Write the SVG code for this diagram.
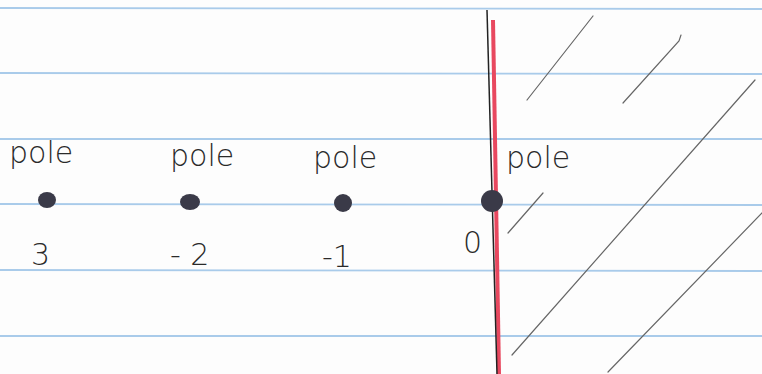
<svg xmlns="http://www.w3.org/2000/svg" width="762" height="374" viewBox="0 0 762 374">
<style>
.rule{stroke:#a9cbea;stroke-width:1.8;fill:none}
.hatch{stroke:#666;stroke-width:1.2;fill:none;stroke-linecap:round}
.lbl{font-family:"DejaVu Sans","Liberation Sans",sans-serif;font-weight:200;font-size:30px;fill:#2a2a2a}
.dot{fill:#3a3a48}
</style>
<rect width="762" height="374" fill="#fdfdfd"/>
<g id="paper">
<line class="rule" x1="0" y1="8" x2="762" y2="9"/>
<line class="rule" x1="0" y1="73" x2="762" y2="74"/>
<line class="rule" x1="0" y1="139" x2="762" y2="139"/>
<line class="rule" x1="0" y1="204" x2="762" y2="205"/>
<line class="rule" x1="0" y1="270" x2="762" y2="271"/>
<line class="rule" x1="0" y1="336" x2="762" y2="336"/>
</g>
<g id="axis">
<line x1="493" y1="20" x2="499" y2="374" stroke="#e8485f" stroke-width="4"/>
<line x1="487" y1="10" x2="497" y2="374" stroke="#222" stroke-width="1.5"/>
</g>
<g id="hatching">
<line class="hatch" x1="593" y1="16" x2="527" y2="100"/>
<path class="hatch" d="M681 35 L679 41 L623 103"/>
<line class="hatch" x1="755" y1="80" x2="512" y2="355"/>
<line class="hatch" x1="543" y1="193" x2="508" y2="233"/>
<line class="hatch" x1="762" y1="213" x2="608" y2="372"/>
</g>
<g id="pole3">
<ellipse class="dot" cx="47" cy="200" rx="9" ry="8"/>
<text class="lbl" x="9" y="163">pole</text>
<text class="lbl" x="31" y="265">3</text>
</g>
<g id="pole-2">
<ellipse class="dot" cx="190" cy="202" rx="10" ry="8"/>
<text class="lbl" x="170" y="166">pole</text>
<text class="lbl" x="170" y="265">- 2</text>
</g>
<g id="pole-1">
<ellipse class="dot" cx="343" cy="203" rx="9" ry="9" fill="#3c3c5a"/>
<text class="lbl" x="313" y="168">pole</text>
<text class="lbl" x="322" y="267">-1</text>
</g>
<g id="pole0">
<ellipse class="dot" cx="492" cy="201" rx="11" ry="11"/>
<text class="lbl" x="506" y="168">pole</text>
<text class="lbl" x="463" y="253">0</text>
</g>
</svg>
